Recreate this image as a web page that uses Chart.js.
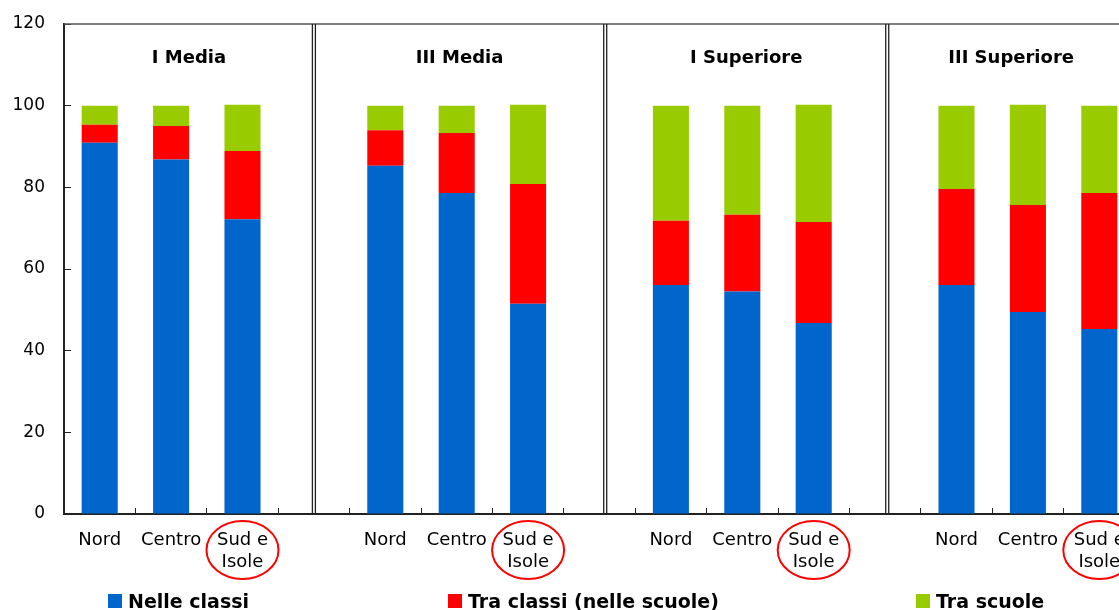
<!DOCTYPE html>
<html>
<head>
<meta charset="utf-8">
<script src="https://cdn.jsdelivr.net/npm/chart.js@4.4.1/dist/chart.umd.min.js"></script>
<style>
  html, body { margin: 0; padding: 0; background: #fff; overflow: hidden; }
  #wrap { width: 1156px; height: 610px; }
</style>
</head>
<body>
<div id="wrap"><canvas id="chart" width="1156" height="610"></canvas></div>
<script>
// Data
const categories = [
    'Nord', 'Centro', ['Sud e', 'Isole'], '',
    'Nord', 'Centro', ['Sud e', 'Isole'], '',
    'Nord', 'Centro', ['Sud e', 'Isole'], '',
    'Nord', 'Centro', ['Sud e', 'Isole']
];
const panelTitles = ['I Media', 'III Media', 'I Superiore', 'III Superiore'];
const nelleClassi = [90.9, 86.8, 72.2, null, 85.3, 78.6, 51.5, null, 56.1, 54.5, 46.8, null, 56.1, 49.5, 45.3];
const traClassi   = [4.4, 8.2, 16.7, null, 8.7, 14.7, 29.3, null, 15.7, 18.8, 24.7, null, 23.5, 26.2, 33.3];
const traScuole   = [4.7, 5.0, 11.3, null, 6.0, 6.7, 19.4, null, 28.2, 26.7, 28.7, null, 20.4, 24.5, 21.4];
const yTicks = [0, 20, 40, 60, 80, 100, 120];
// category positions of the double separator lines
const separators = [3, 7.08, 11.03];
// categories that get a red circle round the label
const circled = [2, 6, 10, 14];

const FONT = '"DejaVu Sans", "Liberation Sans", Arial, sans-serif';

const decorations = {
    id: 'decorations',
    afterDraw(chart) {
        const { ctx, chartArea: a, scales: { x } } = chart;
        const px = v => x.getPixelForValue(v);
        ctx.save();

        // top frame line
        ctx.strokeStyle = '#555';
        ctx.lineWidth = 1.5;
        ctx.beginPath();
        ctx.moveTo(a.left, a.top);
        ctx.lineTo(a.right, a.top);
        ctx.stroke();

        // double separators between panels
        ctx.strokeStyle = '#222';
        ctx.lineWidth = 1.3;
        separators.forEach(s => {
            const cx = px(s);
            [-1.5, 1.5].forEach(d => {
                ctx.beginPath();
                ctx.moveTo(cx + d, a.top);
                ctx.lineTo(cx + d, a.bottom);
                ctx.stroke();
            });
        });

        // panel titles
        const bounds = [a.left, ...separators.map(px), a.right];
        ctx.fillStyle = '#000';
        ctx.font = 'bold 18px ' + FONT;
        ctx.textAlign = 'center';
        ctx.textBaseline = 'alphabetic';
        panelTitles.forEach((t, i) => {
            ctx.fillText(t, (bounds[i] + bounds[i + 1]) / 2, 63);
        });

        // red circles round "Sud e Isole"
        ctx.strokeStyle = '#ff0000';
        ctx.lineWidth = 2;
        circled.forEach(i => {
            ctx.beginPath();
            ctx.ellipse(px(i), 550, 36, 29, 0, 0, Math.PI * 2);
            ctx.stroke();
        });

        // legend
        const legendX = [108, 448, 916];
        ctx.font = 'bold 19px ' + FONT;
        ctx.textAlign = 'left';
        chart.data.datasets.forEach((ds, i) => {
            ctx.fillStyle = ds.backgroundColor;
            ctx.fillRect(legendX[i], 594, 14, 14);
            ctx.fillStyle = '#000';
            ctx.fillText(ds.label, legendX[i] + 20, 608);
        });

        ctx.restore();
    }
};

const ctx = document.getElementById('chart').getContext('2d');
new Chart(ctx, {
    type: 'bar',
    data: {
        labels: categories,
        datasets: [
            { label: 'Nelle classi', data: nelleClassi, backgroundColor: '#0066cc' },
            { label: 'Tra classi (nelle scuole)', data: traClassi, backgroundColor: '#ff0000' },
            { label: 'Tra scuole', data: traScuole, backgroundColor: '#99cc00' }
        ]
    },
    options: {
        responsive: false,
        animation: false,
        devicePixelRatio: 1,
        layout: { padding: { left: 0, right: 21, top: 24, bottom: 0 } },
        datasets: {
            bar: { barPercentage: 0.505, categoryPercentage: 1, borderWidth: 0 }
        },
        plugins: {
            legend: { display: false },
            tooltip: { enabled: false }
        },
        scales: {
            x: {
                stacked: true,
                afterFit: s => { s.height = 96; },
                grid: { drawOnChartArea: false, tickLength: -6, color: '#222', lineWidth: 1, offset: true },
                border: { color: '#222', width: 2 },
                ticks: {
                    color: '#000',
                    padding: 21,
                    autoSkip: false,
                    maxRotation: 0,
                    font: { family: FONT, size: 18, lineHeight: 1.22 }
                }
            },
            y: {
                stacked: true,
                min: 0,
                max: 120,
                afterFit: s => {
                    s.width = 64;
                    // tick padding is added to these by default; keep only half a label
                    s.paddingTop = 10;
                    s.paddingBottom = 10;
                },
                afterBuildTicks: s => { s.ticks = yTicks.map(v => ({ value: v })); },
                grid: { drawOnChartArea: false, tickLength: -7, color: '#222', lineWidth: 1 },
                border: { color: '#222', width: 2 },
                ticks: {
                    color: '#000',
                    padding: 26,
                    font: { family: FONT, size: 17 }
                }
            }
        }
    },
    plugins: [decorations]
});
</script>
</body>
</html>
